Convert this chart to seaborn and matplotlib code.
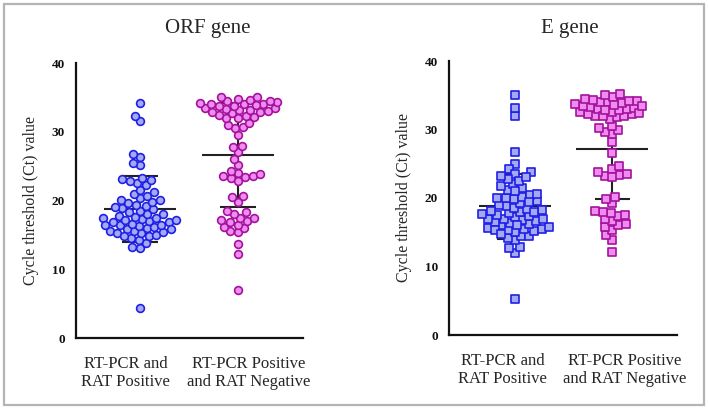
import numpy as np
import pandas as pd
import matplotlib
matplotlib.use("Agg")
import matplotlib.pyplot as plt
import seaborn as sns
from matplotlib.patches import Rectangle
from matplotlib.collections import PathCollection

# Ct values
orf_pos = [4.3, 13.1, 13.2, 25.2, 25.5, 26.3, 26.8, 31.5, 32.3, 34.2,
           13.8, 14.2, 14.5, 14.8, 15.0, 15.2, 15.4, 15.5, 15.6, 15.8,
           16.0, 16.1, 16.3, 16.4, 16.6, 16.8, 16.9, 17.0, 17.1, 17.3,
           17.5, 17.6, 17.8, 18.0, 18.1, 18.3, 18.5, 18.7, 18.9, 19.0,
           19.2, 19.4, 19.6, 19.8, 20.0, 20.0, 20.3, 20.6, 20.9, 21.2,
           21.5, 22.2, 22.5, 22.8, 23.0, 23.1, 23.3,
           17.2, 16.5, 15.3, 15.8, 14.8, 16.5, 17.5]
orf_neg = [7.0, 12.2, 13.7,
           15.4, 15.6, 16.0, 16.2, 16.5, 16.8, 17.0, 17.2, 17.4, 17.5, 18.0, 18.3, 18.5,
           19.8, 20.5, 20.6,
           23.2, 23.4, 23.5, 23.6, 23.8, 24.0, 24.3, 22.9,
           25.2, 26.1, 27.0, 27.8, 27.9, 29.5, 30.5, 30.7, 31.3, 31.0,
           32.0, 32.0, 32.1, 32.3, 32.5, 32.7, 32.8, 33.0, 33.1, 33.3,
           33.4, 33.5, 33.7, 33.8, 34.0, 34.0, 34.1, 34.2, 34.3, 34.4,
           34.5, 34.6, 34.8, 35.0, 35.1, 33.2, 32.9, 33.9]
e_pos = [5.2, 12.0, 12.7, 12.8, 26.7, 31.9, 33.1, 35.1, 25.0, 24.2, 23.8, 23.5,
         13.9, 14.2, 14.5, 14.5, 15.0, 15.2, 15.4, 15.5, 15.5, 15.6,
         15.7, 16.0, 16.2, 16.4, 16.5, 16.6, 16.8, 17.0, 17.2, 17.3,
         17.5, 17.8, 18.0, 18.2, 18.4, 18.6, 18.8, 19.0, 19.2,
         19.5, 19.8, 20.0, 20.2, 20.5, 21.2, 21.5,
         21.8, 22.0, 22.5, 22.8, 23.0, 23.2, 16.9, 17.6, 18.1,
         19.4, 20.6, 15.3, 14.8, 16.0, 17.0, 18.0, 20.0, 21.0]
e_neg = [12.1, 13.9, 14.6,
         15.4, 15.8, 16.0, 16.2, 16.6, 17.0, 17.3, 17.5, 17.8, 18.0, 18.1,
         19.2, 19.8, 20.2,
         23.2, 23.4, 23.5, 23.8, 24.2, 24.6, 23.0,
         26.5, 28.2, 29.3, 29.6, 29.9, 30.2, 30.5,
         31.5, 31.8, 32.0, 32.0, 32.2, 32.3, 32.5, 32.6, 32.8, 33.0,
         33.0, 33.2, 33.3, 33.5, 33.7, 33.8, 34.0, 34.0, 34.2, 34.3,
         34.5, 34.7, 35.0, 35.2, 32.4, 33.6, 34.1, 31.9, 32.9, 33.4]

groups = ["RT-PCR and\nRAT Positive", "RT-PCR Positive\nand RAT Negative"]
titles = ["ORF gene", "E gene"]
y_ticks = [0, 10, 20, 30, 40]

face_cols = ["#a3aaf2", "#f08cf0"]
edge_cols = ["#1f1fe6", "#a3129c"]

sns.set_style("white")
plt.rcParams["font.family"] = ["Liberation Serif", "DejaVu Serif"]

fig = plt.figure(figsize=(7.08, 4.11), dpi=100)
W, H = 708, 411

# outer grey frame
fig.add_artist(Rectangle((4 / W, 1 - 405 / H), 700 / W, 401 / H, transform=fig.transFigure,
                         fill=False, edgecolor="#b4b4b4", linewidth=1.6))

axes_px = [(76, 63, 303, 338, (-0.653, 1.662)), (449, 61, 677, 335, (-0.679, 1.668))]
label_shift = [(-0.145, 0.11), (-0.125, 0.125)]
title_x = [208, 570]
panels = [(orf_pos, orf_neg, "o"), (e_pos, e_neg, "s")]
layout_size = {"o": 4.1, "s": 4.0}
draw_size = {"o": 5.6, "s": 5.2}
all_axes = []

for k, (vals_a, vals_b, mk) in enumerate(panels):
    x0, ytop, x1, ybot, xl = axes_px[k]
    ax = fig.add_axes([x0 / W, 1 - ybot / H, (x1 - x0) / W, (ybot - ytop) / H])
    all_axes.append((ax, mk))
    df = pd.DataFrame({"group": [groups[0]] * len(vals_a) + [groups[1]] * len(vals_b),
                       "ct": vals_a + vals_b})

    for i, g in enumerate(groups):
        sub = df[df["group"] == g]
        m = sub["ct"].mean()
        sd = sub["ct"].std()
        ax.hlines(m, i - 0.37, i + 0.37, color="#222222", lw=1.5, zorder=1)
        ax.hlines([m - sd, m + sd], i - 0.18, i + 0.18, color="#222222", lw=1.5, zorder=1)
        ax.vlines(i, m - sd, m + sd, color="#222222", lw=1.5, zorder=1)
        # swarm laid out with slightly smaller markers so that the drawn ones overlap a bit
        sns.swarmplot(data=sub, x="group", y="ct", order=groups, ax=ax, marker=mk,
                      size=layout_size[mk], color=face_cols[i],
                      edgecolor=edge_cols[i], linewidth=1.2, zorder=3)

    ax.set_xlim(*xl)
    ax.set_ylim(0, 40)
    ax.set_yticks(y_ticks)
    ax.set_xlabel("")
    ax.set_ylabel("Cycle threshold (Ct) value", fontsize=11.5, labelpad=9)
    # tick marks at the categories, labels slightly spread apart as in the original
    ax.set_xticks([0, 1])
    ax.set_xticklabels(["", ""])
    ax.set_xticks([label_shift[k][0], 1 + label_shift[k][1]], minor=True)
    ax.set_xticklabels(groups, minor=True, fontsize=12, linespacing=1.15)
    ax.tick_params(axis="x", which="minor", length=0, pad=13)
    for lab in ax.get_yticklabels():
        lab.set_fontweight("bold")
        lab.set_fontsize(9.5)
    sns.despine(ax=ax)
    for s in ["left", "bottom"]:
        ax.spines[s].set_linewidth(1.6)
        ax.spines[s].set_color("#111111")
    ax.tick_params(axis="both", which="major", direction="out", length=5, width=1.5, colors="#111111")
    ax.tick_params(axis="x", which="major", length=7)
    ax.tick_params(axis="y", pad=3)

    fig.text(title_x[k] / W, 1 - 29 / H, titles[k], fontsize=15, ha="center", va="center")

# fix the swarm positions, then enlarge the markers to the drawn size
fig.canvas.draw()
for ax, mk in all_axes:
    for c in ax.collections:
        if isinstance(c, PathCollection):
            if "draw" in c.__dict__:
                del c.draw
            c.set_sizes([draw_size[mk] ** 2])

fig.savefig("out.png", dpi=100)
